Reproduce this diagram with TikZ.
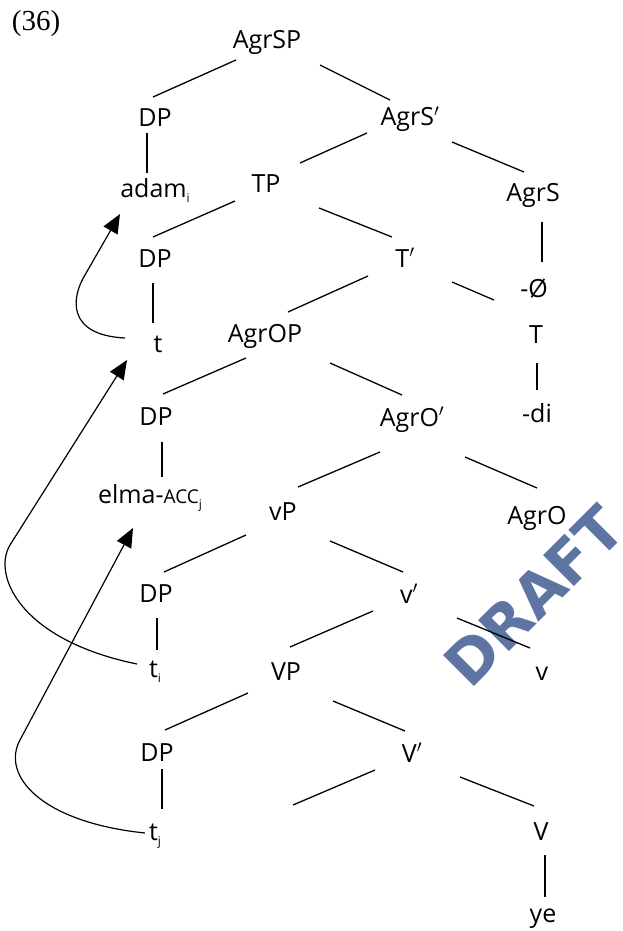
\documentclass[tikz,border=0pt]{standalone}
\usepackage{fontspec}
\setmainfont{Open Sans}
\newfontfamily\numfont{Liberation Serif}
\newfontfamily\wmfont{DejaVu Sans}
\usepackage{tikz}
\usetikzlibrary{arrows.meta}
\definecolor{rascunho}{RGB}{94,117,163}
\newcommand{\idx}[1]{\raisebox{-5pt}{\fontsize{12}{12}\selectfont #1}}
\newcommand{\barra}{$^{\prime}$}

\begin{document}
\begin{tikzpicture}[x=1pt, y=-1pt,
    lbl/.style={font=\fontsize{25}{30}\selectfont, inner sep=0pt, anchor=base},
    ramo/.style={line width=1.3pt},
    mov/.style={line width=1.2pt, -{Triangle[length=19pt,width=16pt]}}]
    \useasboundingbox (0,0) rectangle (622,931);

    % marca d'agua
    \node[rotate=45, text=rascunho, font=\wmfont\bfseries\fontsize{60}{60}\selectfont] (marca) at (534,596) {DRAFT};

    \node[lbl, font=\numfont\fontsize{29}{30}\selectfont] (ex) at (36,31) {(36)};

    % rotulos da arvore
    \node[lbl] (agrsp) at (267,49) {AgrSP};
    \node[lbl] (dpa) at (155,127) {DP};
    \node[lbl] (agrsbar) at (410,126) {AgrS\barra};
    \node[lbl] (adam) at (155,197) {adam\idx{i}};
    \node[lbl] (tp) at (266,192) {TP};
    \node[lbl] (agrs) at (533,201) {AgrS};
    \node[lbl] (dpb) at (155,267) {DP};
    \node[lbl] (tbar) at (405,267) {T\barra};
    \node[lbl] (nulo) at (534,297) {-Ø};
    \node[lbl] (ta) at (158,352) {t};
    \node[lbl] (agrop) at (265,342) {AgrOP};
    \node[lbl] (thead) at (536,343) {T};
    \node[lbl] (dpc) at (156,425) {DP};
    \node[lbl] (agrobar) at (412,426) {AgrO\barra};
    \node[lbl] (di) at (537,422) {-di};
    \node[lbl] (elma) at (150,503) {elma-{\fontsize{19}{20}\selectfont ACC}\idx{j}};
    \node[lbl] (vp) at (283,520) {vP};
    \node[lbl] (agro) at (537,524) {AgrO};
    \node[lbl] (dpd) at (156,602) {DP};
    \node[lbl] (vbar) at (409,603) {v\barra};
    \node[lbl] (ti) at (155,677) {t\idx{i}};
    \node[lbl] (bigvp) at (286,680) {VP};
    \node[lbl] (vhead) at (542,680) {v};
    \node[lbl] (dpe) at (157,761) {DP};
    \node[lbl] (bigvbar) at (412,762) {V\barra};
    \coordinate (vazio) at (293,805);
    \node[lbl] (tj) at (155,840) {t\idx{j}};
    \node[lbl] (bigv) at (541,840) {V};
    \node[lbl] (ye) at (543,922) {ye};

    % ramos
    \draw[ramo] ([shift={(-31,11)}]agrsp.base) -- ([shift={(-2,-30)}]dpa.base);
    \draw[ramo] ([shift={(53,16)}]agrsp.base) -- ([shift={(-20,-26)}]agrsbar.base);
    \draw[ramo] ([shift={(-8,6)}]dpa.base) -- ([shift={(-8,-24)}]adam.base);
    \draw[ramo] ([shift={(-43,7)}]agrsbar.base) -- ([shift={(34,-29)}]tp.base);
    \draw[ramo] ([shift={(42,16)}]agrsbar.base) -- ([shift={(-9,-29)}]agrs.base);
    \draw[ramo] ([shift={(-31,9)}]tp.base) -- ([shift={(-2,-30)}]dpb.base);
    \draw[ramo] ([shift={(53,16)}]tp.base) -- ([shift={(-13,-30)}]tbar.base);
    \draw[ramo] ([shift={(9,21)}]agrs.base) -- ([shift={(8,-35)}]nulo.base);
    \draw[ramo] ([shift={(-2,16)}]dpb.base) -- ([shift={(-5,-29)}]ta.base);
    \draw[ramo] ([shift={(-37,9)}]tbar.base) -- ([shift={(23,-30)}]agrop.base);
    \draw[ramo] ([shift={(47,15)}]tbar.base) -- ([shift={(-40,3)}]nulo.base);
    \draw[ramo] ([shift={(-19,16)}]agrop.base) -- ([shift={(7,-31)}]dpc.base);
    \draw[ramo] ([shift={(65,21)}]agrop.base) -- ([shift={(-10,-31)}]agrobar.base);
    \draw[ramo] ([shift={(1,20)}]thead.base) -- ([shift={(0,-32)}]di.base);
    \draw[ramo] ([shift={(6,17)}]dpc.base) -- ([shift={(12,-26)}]elma.base);
    \draw[ramo] ([shift={(-32,26)}]agrobar.base) -- ([shift={(15,-33)}]vp.base);
    \draw[ramo] ([shift={(53,31)}]agrobar.base) -- ([shift={(0,-36)}]agro.base);
    \draw[ramo] ([shift={(-37,15)}]vp.base) -- ([shift={(8,-30)}]dpd.base);
    \draw[ramo] ([shift={(47,21)}]vp.base) -- ([shift={(-6,-31)}]vbar.base);
    \draw[ramo] ([shift={(1,16)}]dpd.base) -- ([shift={(2,-27)}]ti.base);
    \draw[ramo] ([shift={(-36,8)}]vbar.base) -- ([shift={(4,-33)}]bigvp.base);
    \draw[ramo] ([shift={(48,15)}]vbar.base) -- ([shift={(-12,-32)}]vhead.base);
    \draw[ramo] ([shift={(-38,13)}]bigvp.base) -- ([shift={(8,-31)}]dpe.base);
    \draw[ramo] ([shift={(47,21)}]bigvp.base) -- ([shift={(-7,-31)}]bigvbar.base);
    \draw[ramo] ([shift={(5,8)}]dpe.base) -- ([shift={(7,-31)}]tj.base);
    \draw[ramo] ([shift={(-37,8)}]bigvbar.base) -- (vazio);
    \draw[ramo] ([shift={(48,15)}]bigvbar.base) -- ([shift={(-7,-34)}]bigv.base);
    \draw[ramo] ([shift={(4,15)}]bigv.base) -- ([shift={(2,-25)}]ye.base);

    % movimentos
    \draw[mov] ([shift={(-33,-14)}]ta.base) .. controls (65,335) and (72,296) .. (85,275) -- ([shift={(-35,17)}]adam.base);
    \draw[mov] ([shift={(-18,-13)}]ti.base) .. controls (20,640) and (-8,575) .. (10,545) -- ([shift={(-31,8)}]ta.base);
    \draw[mov] ([shift={(-10,-7)}]tj.base) .. controls (40,822) and (1,775) .. (20,740) -- ([shift={(-17,25)}]elma.base);
\end{tikzpicture}
\end{document}
